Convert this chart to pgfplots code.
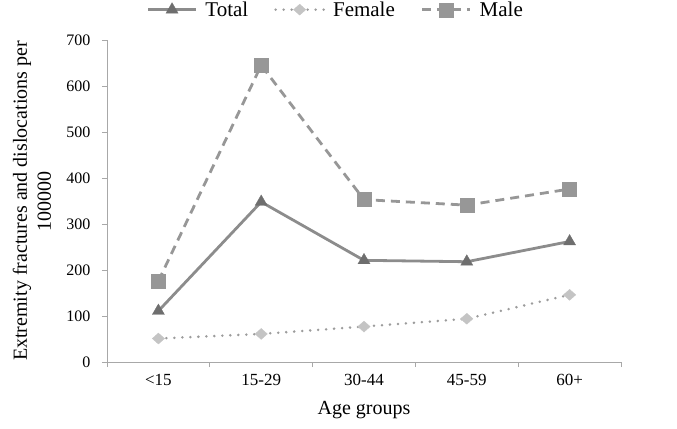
\documentclass[border=0pt]{standalone}
\usepackage{pgfplots}
\pgfplotsset{compat=1.18}
\usepackage{fontspec}
\setmainfont{Liberation Serif}
\definecolor{totl}{HTML}{8C8C8C}
\definecolor{totm}{HTML}{6E6E6E}
\definecolor{feml}{HTML}{9C9C9C}
\definecolor{femm}{HTML}{C4C4C4}
\definecolor{male}{HTML}{979797}
\definecolor{axc}{HTML}{A8A8A8}
\begin{document}
\begin{tikzpicture}
\begin{axis}[
  scale only axis,
  width=514bp, height=322bp,
  xmin=-0.5, xmax=4.5,
  ymin=0, ymax=700,
  ytick={0,100,...,700},
  xtick={0,1,2,3,4},
  xticklabels={<15,15-29,30-44,45-59,60+},
  minor xtick={-0.5,0.5,1.5,2.5,3.5,4.5},
  axis lines*=left,
  axis line style={axc, line width=0.8pt},
  tick align=outside,
  major tick length=5bp,
  minor tick length=5bp,
  x tick style={draw=none},
  minor x tick style={draw=axc, line width=0.8pt},
  y tick style={draw=axc, line width=0.8pt},
  tick label style={font=\fontsize{16bp}{18bp}\selectfont, text=black},
  xticklabel style={font=\fontsize{17bp}{19bp}\selectfont, yshift=-4bp},
  /pgf/number format/assume math mode=true,
  yticklabel style={xshift=-8bp},
  xlabel={Age groups},
  xlabel style={font=\fontsize{20bp}{23bp}\selectfont, at={(axis description cs:0.5,-0.15)}, anchor=center},
  ylabel={Extremity fractures and dislocations per\\100000},
  ylabel style={font=\fontsize{20bp}{24bp}\selectfont, align=center, at={(axis description cs:-0.146,0.5)}, anchor=center},
  legend style={draw=none, fill=none, at={(0.445,1.126)}, anchor=north, legend columns=3,
    font=\fontsize{21bp}{23bp}\selectfont, column sep=6bp, inner sep=0pt,
    /tikz/every even column/.append style={column sep=24bp}},
  legend cell align=left,
  legend image code/.code={\draw[mark repeat=2, mark phase=2, #1] plot coordinates {(0bp,0bp) (24bp,0bp) (48bp,0bp)};},
]
\addplot[color=totl, line width=2.8bp, mark=triangle*, mark size=7bp, mark options={solid, fill=totm, draw=totm, line width=0.3pt}]
  coordinates {(0,111) (1,348) (2,221) (3,218) (4,262)};
\addlegendentry{Total}
\addplot[color=feml, line width=2.8bp, line cap=round, dash pattern=on 0bp off 8bp, mark=diamond*, mark size=5.5bp, mark options={solid, fill=femm, draw=femm, line width=0.3pt, xscale=1.5}]
  coordinates {(0,51) (1,61) (2,77) (3,94) (4,146)};
\addlegendentry{Female}
\addplot[color=male, line width=2.8bp, dash pattern=on 9bp off 6bp, mark=square*, mark size=7bp, mark options={solid, fill=male, draw=male, line width=0.3pt}]
  coordinates {(0,176) (1,645) (2,353) (3,341) (4,376)};
\addlegendentry{Male}
\end{axis}
\pgfresetboundingbox
\path[use as bounding box] (-107bp,-67bp) rectangle (570bp,362bp);
\end{tikzpicture}
\end{document}
